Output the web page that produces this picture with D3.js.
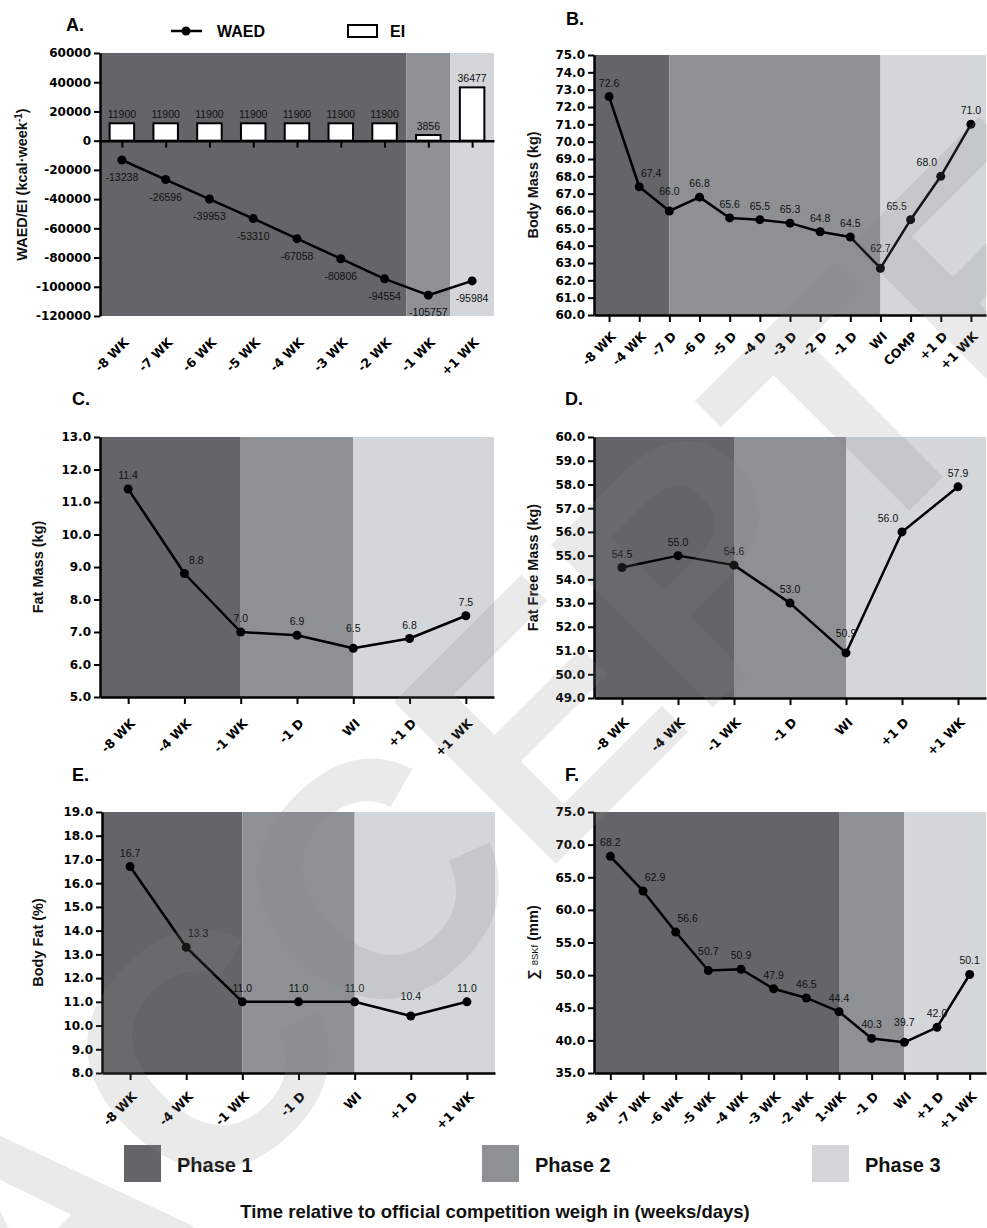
<!DOCTYPE html>
<html>
<head>
<meta charset="utf-8">
<script src="https://cdn.jsdelivr.net/npm/d3@7"></script>
<style>
  body { margin: 0; background: #fff; }
  svg { display: block; }
</style>
</head>
<body>
<script>
let w = 987;
let h = 1228;

// phase shading
var phaseColors = ["#636568", "#8e9194", "#d3d7da"];
var phaseNames = ["Phase 1", "Phase 2", "Phase 3"];

// A. weekly accumulated energy deficit / energy intake
var catsA = ["-8 WK", "-7 WK", "-6 WK", "-5 WK", "-4 WK", "-3 WK", "-2 WK", "-1 WK", "+1 WK"];
var waed = [-13238, -26596, -39953, -53310, -67058, -80806, -94554, -105757, -95984];
var ei = [11900, 11900, 11900, 11900, 11900, 11900, 11900, 3856, 36477];
var ticksA = [-120000, -100000, -80000, -60000, -40000, -20000, 0, 20000, 40000, 60000];
var phasesA = [-0.5, 6.5, 7.5, 8.5];

// B. body mass
var catsB = ["-8 WK", "-4 WK", "-7 D", "-6 D", "-5 D", "-4 D", "-3 D", "-2 D", "-1 D", "WI", "COMP", "+1 D", "+1 WK"];
var bodyMass = [72.6, 67.4, 66.0, 66.8, 65.6, 65.5, 65.3, 64.8, 64.5, 62.7, 65.5, 68.0, 71.0];
var ticksB = [60, 61, 62, 63, 64, 65, 66, 67, 68, 69, 70, 71, 72, 73, 74, 75];
var phasesB = [-0.5, 2, 9, 12.5];

// C, D, E share the same time points
var catsCDE = ["-8 WK", "-4 WK", "-1 WK", "-1 D", "WI", "+1 D", "+1 WK"];
var phasesCDE = [-0.5, 2, 4, 6.5];
var fatMass = [11.4, 8.8, 7.0, 6.9, 6.5, 6.8, 7.5];
var ticksC = [5, 6, 7, 8, 9, 10, 11, 12, 13];
var fatFree = [54.5, 55.0, 54.6, 53.0, 50.9, 56.0, 57.9];
var ticksD = [49, 50, 51, 52, 53, 54, 55, 56, 57, 58, 59, 60];
var bodyFat = [16.7, 13.3, 11.0, 11.0, 11.0, 10.4, 11.0];
var ticksE = [8, 9, 10, 11, 12, 13, 14, 15, 16, 17, 18, 19];

// F. sum of 8 skinfolds
var catsF = ["-8 WK", "-7 WK", "-6 WK", "-5 WK", "-4 WK", "-3 WK", "-2 WK", "1-WK", "-1 D", "WI", "+1 D", "+1 WK"];
var skinfolds = [68.2, 62.9, 56.6, 50.7, 50.9, 47.9, 46.5, 44.4, 40.3, 39.7, 42.0, 50.1];
var ticksF = [35, 40, 45, 50, 55, 60, 65, 70, 75];
var phasesF = [-0.5, 7, 9, 11.5];

var tickFont = "DejaVu Sans";
var textFont = "Liberation Sans, Arial, sans-serif";

var svg = d3.select("body").append("svg")
    .attr("width", w)
    .attr("height", h);

var styleAxis = (ax) => {
    ax.select(".domain").attr("stroke", "#000").attr("stroke-width", 2.5);
    ax.selectAll(".tick line").attr("stroke", "#000").attr("stroke-width", 2);
    ax.selectAll("text")
        .attr("font-family", tickFont)
        .attr("font-weight", "bold")
        .attr("font-size", 12)
        .attr("fill", "#000");
};

var rotateLabels = (ax, off) => {
    ax.selectAll("text")
        .attr("y", 0)
        .attr("dy", "0.35em")
        .attr("font-size", 12.5)
        .attr("text-anchor", "end")
        .attr("transform", `translate(4,${off}) rotate(-45)`);
};

function drawPanel(p) {
    var g = svg.append("g");
    var n = p.cats.length;
    var x = d3.scaleLinear().domain([-0.5, n - 0.5]).range([p.left, p.right]);
    var y = d3.scaleLinear().domain([p.ticks[0], p.ticks[p.ticks.length - 1]]).range([p.bottom, p.top]);
    var step = x(1) - x(0);

    // phase bands
    for (let k = 0; k < 3; k++) {
        g.append("rect")
            .attr("x", x(p.phases[k]))
            .attr("y", p.top)
            .attr("width", x(p.phases[k + 1]) - x(p.phases[k]))
            .attr("height", p.bottom - p.top)
            .attr("fill", phaseColors[k]);
    }

    // bars (panel A only)
    if (p.bars) {
        var bw = step * 0.56;
        g.selectAll("rect.bar").data(p.bars).enter().append("rect")
            .attr("class", "bar")
            .attr("x", (d, i) => x(i) - bw / 2)
            .attr("y", d => y(d))
            .attr("width", bw)
            .attr("height", d => y(0) - y(d))
            .attr("fill", "#fff")
            .attr("stroke", "#000")
            .attr("stroke-width", 2);
        g.selectAll("text.barlab").data(p.bars).enter().append("text")
            .attr("class", "barlab")
            .attr("x", (d, i) => x(i))
            .attr("y", d => y(d) - 5)
            .attr("text-anchor", "middle")
            .attr("font-family", textFont)
            .attr("font-size", 10.5)
            .attr("fill", "#111")
            .text(d => d);
    }

    // y axis
    var yAx = g.append("g")
        .attr("transform", `translate(${p.left},0)`)
        .call(d3.axisLeft(y).tickValues(p.ticks).tickSize(6).tickSizeOuter(0).tickFormat(p.fmt));
    styleAxis(yAx);

    // x axis
    if (p.zeroAxis) {
        var zAx = g.append("g")
            .attr("transform", `translate(0,${y(0)})`)
            .call(d3.axisBottom(x).tickValues(d3.range(n)).tickSize(7).tickSizeOuter(0).tickFormat(""));
        styleAxis(zAx);
        var lAx = g.append("g")
            .attr("transform", `translate(0,${p.bottom})`)
            .call(d3.axisBottom(x).tickValues(d3.range(n)).tickSize(0).tickFormat(i => p.cats[i]));
        lAx.select(".domain").remove();
        styleAxis(lAx);
        rotateLabels(lAx, 24);
    } else {
        var xAx = g.append("g")
            .attr("transform", `translate(0,${p.bottom})`)
            .call(d3.axisBottom(x).tickValues(d3.range(n)).tickSize(7).tickSizeOuter(0).tickFormat(i => p.cats[i]));
        styleAxis(xAx);
        rotateLabels(xAx, p.labOff || 21);
    }

    // line + points
    var line = d3.line().x((d, i) => x(i)).y(d => y(d));
    g.append("path")
        .datum(p.values)
        .attr("d", line)
        .attr("fill", "none")
        .attr("stroke", "#000")
        .attr("stroke-width", 2.5)
        .attr("stroke-linejoin", "round");
    g.selectAll("circle").data(p.values).enter().append("circle")
        .attr("cx", (d, i) => x(i))
        .attr("cy", d => y(d))
        .attr("r", 4.5)
        .attr("fill", "#000");

    // value labels
    var py = p.values.map(v => y(v));
    g.selectAll("text.vlab").data(p.values).enter().append("text")
        .attr("class", "vlab")
        .attr("x", (d, i) => {
            if (p.below || i == 0 || i == n - 1) return x(i);
            var sIn = (py[i] - py[i - 1]) / step;
            var sOut = (py[i + 1] - py[i]) / step;
            if (sIn > 0.75 && sOut > 0.75) return x(i) + 12;
            if (sIn < -0.75 && sOut < -0.75) return x(i) - 14;
            return x(i);
        })
        .attr("y", (d, i) => {
            if (p.below) return py[i] + 21;
            var lowMin = i > 0 && i < n - 1 && py[i] > py[i - 1] && py[i] > py[i + 1];
            return py[i] - (lowMin ? 16 : 10);
        })
        .attr("text-anchor", "middle")
        .attr("font-family", textFont)
        .attr("font-size", 10.5)
        .attr("fill", "#111")
        .text(d => p.below ? d : d.toFixed(1));

    // panel letter
    svg.append("text")
        .attr("x", p.letterX)
        .attr("y", p.letterY)
        .attr("font-family", textFont)
        .attr("font-weight", "bold")
        .attr("font-size", 18)
        .text(p.letter);

    // y title
    var t = svg.append("text")
        .attr("transform", `translate(${p.titleX},${(p.top + p.bottom) / 2}) rotate(-90)`)
        .attr("text-anchor", "middle")
        .attr("font-family", textFont)
        .attr("font-weight", "bold")
        .attr("font-size", 14.5)
        .attr("fill", "#111");
    p.title(t);
}

var f1 = d3.format(".1f");

drawPanel({
    left: 100, right: 494, top: 53, bottom: 316,
    cats: catsA, values: waed, bars: ei, ticks: ticksA, phases: phasesA,
    fmt: d => String(d), zeroAxis: true, below: true,
    letter: "A.", letterX: 66, letterY: 31, titleX: 27,
    title: t => {
        t.append("tspan").text("WAED/EI (kcal·week");
        t.append("tspan").attr("dy", -5).attr("font-size", 10).text("-1");
        t.append("tspan").attr("dy", 5).text(")");
    }
});

drawPanel({
    left: 594, right: 986, top: 55, bottom: 315,
    cats: catsB, values: bodyMass, ticks: ticksB, phases: phasesB, fmt: f1, labOff: 19,
    letter: "B.", letterX: 566, letterY: 25, titleX: 538,
    title: t => t.text("Body Mass (kg)")
});

drawPanel({
    left: 100, right: 494, top: 437, bottom: 697,
    cats: catsCDE, values: fatMass, ticks: ticksC, phases: phasesCDE, fmt: f1, labOff: 24,
    letter: "C.", letterX: 72, letterY: 405, titleX: 43,
    title: t => t.text("Fat Mass (kg)")
});

drawPanel({
    left: 594, right: 986, top: 437, bottom: 698,
    cats: catsCDE, values: fatFree, ticks: ticksD, phases: phasesCDE, fmt: f1, labOff: 22,
    letter: "D.", letterX: 565, letterY: 405, titleX: 538,
    title: t => t.text("Fat Free Mass (kg)")
});

drawPanel({
    left: 102, right: 495, top: 812, bottom: 1073,
    cats: catsCDE, values: bodyFat, ticks: ticksE, phases: phasesCDE, fmt: f1,
    letter: "E.", letterX: 72, letterY: 781, titleX: 43,
    title: t => t.text("Body Fat (%)")
});

drawPanel({
    left: 594, right: 986, top: 812, bottom: 1073,
    cats: catsF, values: skinfolds, ticks: ticksF, phases: phasesF, fmt: f1,
    letter: "F.", letterX: 565, letterY: 781, titleX: 538,
    title: t => {
        t.append("tspan").text("∑ ");
        t.append("tspan").attr("font-size", 9.5).attr("font-weight", "normal").text("8SKf");
        t.append("tspan").text(" (mm)");
    }
});

// legend for panel A
var lg = svg.append("g");
lg.append("line").attr("x1", 171).attr("x2", 202).attr("y1", 31).attr("y2", 31)
    .attr("stroke", "#000").attr("stroke-width", 2.5);
lg.append("circle").attr("cx", 186).attr("cy", 31).attr("r", 4.5).attr("fill", "#000");
lg.append("text").attr("x", 217).attr("y", 37)
    .attr("font-family", textFont).attr("font-weight", "bold").attr("font-size", 16).text("WAED");
lg.append("rect").attr("x", 348).attr("y", 25).attr("width", 29).attr("height", 12)
    .attr("fill", "#fff").attr("stroke", "#000").attr("stroke-width", 2);
lg.append("text").attr("x", 390).attr("y", 37)
    .attr("font-family", textFont).attr("font-weight", "bold").attr("font-size", 16).text("EI");

// phase legend
var legX = [124, 482, 812];
phaseNames.forEach((name, k) => {
    svg.append("rect").attr("x", legX[k]).attr("y", 1145).attr("width", 37).attr("height", 37)
        .attr("fill", phaseColors[k]);
    svg.append("text").attr("x", legX[k] + 53).attr("y", 1172)
        .attr("font-family", textFont).attr("font-weight", "bold").attr("font-size", 20)
        .attr("fill", "#111").text(name);
});

svg.append("text").attr("x", 495).attr("y", 1218)
    .attr("text-anchor", "middle")
    .attr("font-family", textFont).attr("font-weight", "bold").attr("font-size", 18.5)
    .attr("fill", "#111")
    .text("Time relative to official competition weigh in (weeks/days)");

// "ACCEPTED" watermark
svg.append("text")
    .attr("x", 30).attr("y", 1390)
    .attr("transform", "rotate(-45,30,1390)")
    .attr("font-family", textFont).attr("font-weight", "bold").attr("font-size", 333)
    .attr("fill", "#828282").attr("fill-opacity", 0.17)
    .text("ACCEPTED");
</script>
</body>
</html>
